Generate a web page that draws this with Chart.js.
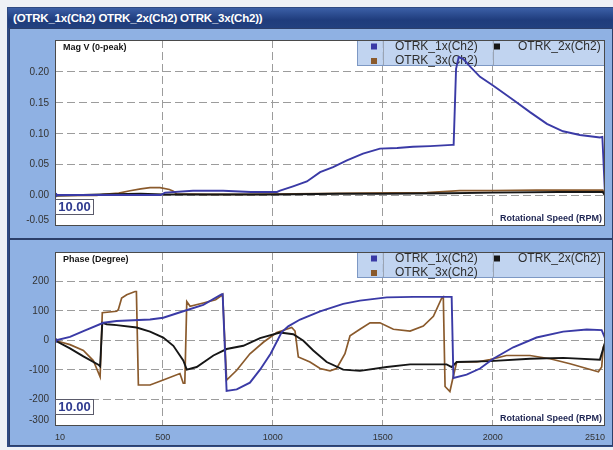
<!DOCTYPE html>
<html><head><meta charset="utf-8">
<script src="https://cdn.jsdelivr.net/npm/chart.js@4"></script>
<style>
html,body{margin:0;padding:0;width:613px;height:450px;overflow:hidden;background:#eef1f6;}
#frame{position:absolute;left:7px;top:7px;width:606px;height:440px;background:#2f4a82;}
#title{position:absolute;left:8px;top:8px;width:605px;height:20px;background:linear-gradient(#3b5fa6,#1f3c7c 60%,#22407f);color:#fff;font:bold 11.5px "Liberation Sans",Arial,sans-serif;line-height:20px;padding-left:5px;box-sizing:border-box;white-space:nowrap;letter-spacing:-0.2px;}
.panel{position:absolute;left:9px;width:604px;background:#8fb1e3;border:1px solid #2c3f6a;box-sizing:border-box;}
canvas{position:absolute;left:0;}
</style></head>
<body>
<div id="frame"></div>
<div id="title">(OTRK_1x(Ch2) OTRK_2x(Ch2) OTRK_3x(Ch2))</div>
<div class="panel" style="top:28px;height:211px;"></div>
<div class="panel" style="top:239px;height:207px;"></div>
<canvas id="c1" width="613" height="210" style="top:28px;"></canvas>
<canvas id="c2" width="613" height="210" style="top:240px;"></canvas>
<script>
// ---------- data ----------
const seriesNames = ['OTRK_1x(Ch2)', 'OTRK_2x(Ch2)', 'OTRK_3x(Ch2)'];
const xTicks = [10, 500, 1000, 1500, 2000, 2510];
const magTicks = [-0.05, 0, 0.05, 0.10, 0.15, 0.20];
const phaseTicks = [-300, -200, -100, 0, 100, 200];

// Magnitude (V 0-peak) : [rpm, value]
const mag1x = [[10,0.001],[490,0.001],[510,0.005],[637,0.008],[774,0.008],[900,0.006],[1019,0.006],[1033,0.008],[1092,0.015],[1155,0.023],[1215,0.038],[1274,0.046],[1337,0.057],[1410,0.068],[1487,0.076],[1565,0.077],[1637,0.079],[1715,0.080],[1815,0.082],[1822,0.082],[1833,0.205],[1845,0.224],[1865,0.221],[1896,0.209],[1942,0.192],[2001,0.178],[2092,0.155],[2169,0.135],[2246,0.116],[2319,0.104],[2396,0.098],[2487,0.094],[2498,0.095],[2510,0.002]];
const mag2x = [[10,0.0],[220,0.002],[400,0.003],[500,0.002],[800,0.002],[1000,0.002],[1300,0.003],[1500,0.003],[1800,0.004],[2000,0.005],[2300,0.006],[2500,0.006],[2510,0.0]];
const mag3x = [[10,0.0],[200,0.0005],[230,0.002],[300,0.004],[351,0.008],[400,0.011],[442,0.013],[487,0.013],[530,0.010],[548,0.007],[563,0.003],[700,0.002],[900,0.002],[1100,0.003],[1400,0.004],[1700,0.005],[1850,0.008],[2000,0.008],[2200,0.009],[2400,0.009],[2500,0.009],[2510,0.001]];

// Phase (Degree) : [rpm, value]
const phase1x = [[10,0],[78,12],[139,32],[230,60],[290,66],[442,71],[502,77],[593,99],[684,121],[768,157],[772,157],[790,-171],[836,-166],[896,-143],[942,-99],[990,-45],[1040,28],[1070,48],[1124,71],[1215,99],[1320,124],[1396,135],[1518,146],[1639,148],[1813,148],[1821,-127],[1881,-116],[1942,-95],[2002,-62],[2093,-23],[2199,10],[2320,30],[2427,37],[2495,35],[2510,8]];
const phase2x = [[10,0],[78,-27],[139,-54],[207,-82],[215,-88],[225,60],[245,55],[290,52],[381,44],[442,30],[502,10],[548,-18],[593,-68],[609,-99],[654,-90],[730,-51],[790,-29],[866,-18],[942,8],[1033,27],[1093,21],[1139,-1],[1184,-34],[1245,-73],[1320,-99],[1396,-103],[1518,-90],[1624,-81],[1790,-81],[1813,-90],[1836,-73],[1987,-70],[2169,-62],[2320,-59],[2487,-65],[2510,-7]];
const phase3x = [[10,0],[78,-14],[139,-34],[184,-68],[215,-123],[225,94],[290,99],[298,105],[313,144],[336,155],[374,166],[380,166],[389,-151],[442,-151],[502,-134],[578,-112],[593,-145],[600,-145],[609,132],[624,116],[684,127],[740,138],[768,153],[772,156],[790,-134],[836,-101],[896,-45],[957,-6],[1018,27],[1086,44],[1101,32],[1116,-56],[1169,-73],[1215,-95],[1260,-103],[1290,-95],[1328,-45],[1351,16],[1396,38],[1442,60],[1487,60],[1548,38],[1624,32],[1684,49],[1730,82],[1768,144],[1775,148],[1783,-156],[1805,-173],[1820,-123],[1836,-73],[1927,-73],[1987,-65],[2062,-51],[2169,-51],[2260,-62],[2351,-79],[2427,-95],[2480,-106],[2495,-90],[2502,-23],[2510,-12]];

const colors = ['#3a3aa6', '#161616', '#8a5a2c'];
const gridColor = '#9c9c9c';
const FONT = '"Liberation Sans", Arial, sans-serif';

// ---------- helpers ----------
function toXY(arr){ return arr.map(p => ({x: p[0], y: p[1]})); }
function makeDatasets(a, b, c){
  return [a, b, c].map((arr, i) => ({
    label: seriesNames[i],
    data: toXY(arr),
    borderColor: colors[i],
    backgroundColor: colors[i],
    borderWidth: i === 2 ? 1.7 : 1.9,
    pointRadius: ctx => (i === 0 && ctx.dataIndex === 0) ? 3 : 0,
    pointStyle: 'rect',
    pointBorderWidth: 0,
    tension: 0
  }));
}
function yTickBuilder(list){
  return function(scale){
    const span = scale.max - scale.min;
    scale.ticks = list.map(v => ({value: v < scale.min ? scale.min + span * 0.033 : v}));
  };
}

const decor = {
  id: 'decor',
  beforeDraw(chart){
    const {ctx, chartArea: a} = chart;
    ctx.save();
    ctx.fillStyle = '#ffffff';
    ctx.fillRect(a.left, a.top, a.right - a.left, a.bottom - a.top);
    ctx.restore();
  },
  beforeDatasetsDraw(chart){
    const {ctx, chartArea: a} = chart;
    const w = 248, h = 26, x0 = a.right - w, y0 = a.top;
    ctx.save();
    ctx.fillStyle = 'rgba(184,206,238,0.88)';
    ctx.fillRect(x0, y0, w, h);
    ctx.strokeStyle = '#7d98c4';
    ctx.lineWidth = 1;
    ctx.strokeRect(x0 + 0.5, y0 + 0.5, w - 1, h - 1);
    ctx.strokeStyle = '#9aa4b4';
    [26, 136].forEach(dx => {
      ctx.beginPath(); ctx.moveTo(x0 + dx + 0.5, y0 + 1); ctx.lineTo(x0 + dx + 0.5, y0 + h - 1); ctx.stroke();
    });
    const slots = [[0, 0], [1, 0], [0, 1]];
    ctx.font = '12px ' + FONT;
    ctx.textBaseline = 'middle';
    ctx.textAlign = 'left';
    chart.data.datasets.forEach((d, i) => {
      const [c, r] = slots[i];
      const mx = x0 + 14 + c * 123, my = y0 + 6.5 + r * 14.5;
      ctx.fillStyle = d.borderColor;
      ctx.fillRect(mx, my - 3, 6, 6);
      ctx.fillStyle = '#2e2e2e';
      ctx.fillText(d.label, mx + 24, my);
    });
    ctx.restore();
  },
  afterDraw(chart, args, opts){
    const {ctx, chartArea: a} = chart;
    ctx.save();
    ctx.font = 'bold 9px ' + FONT;
    ctx.fillStyle = '#151515';
    ctx.textBaseline = 'top';
    ctx.textAlign = 'left';
    ctx.fillText(opts.yTitle, a.left + 8, a.top + 3);
    ctx.fillStyle = '#1d2452';
    ctx.textAlign = 'right';
    ctx.textBaseline = 'bottom';
    ctx.fillText(opts.xTitle, a.right - 3, a.bottom - 3);
    ctx.strokeStyle = '#4a4a4a';
    ctx.lineWidth = 1;
    ctx.strokeRect(a.left + 0.5, a.top + 0.5, a.right - a.left - 1, a.bottom - a.top - 1);
    // cursor value box
    const bx = a.left, by = a.bottom - 27;
    ctx.fillStyle = '#ffffff';
    ctx.fillRect(bx, by, 39, 16);
    ctx.strokeStyle = '#5a5a6a';
    ctx.strokeRect(bx + 0.5, by + 0.5, 38, 15);
    ctx.font = 'bold 13px ' + FONT;
    ctx.fillStyle = '#2e3a8f';
    ctx.textAlign = 'center';
    ctx.textBaseline = 'middle';
    ctx.fillText(opts.cursor, bx + 19.5, by + 8.5);
    ctx.restore();
  }
};

function makeChart(id, datasets, yMin, yMax, yList, yFmt, showX, pad, xHeight, yTitle){
  return new Chart(document.getElementById(id), {
    type: 'line',
    data: {datasets},
    plugins: [decor],
    options: {
      responsive: false,
      animation: false,
      events: [],
      layout: {padding: pad},
      plugins: {
        legend: {display: false},
        tooltip: {enabled: false},
        decor: {yTitle: yTitle, xTitle: 'Rotational Speed (RPM)', cursor: '10.00'}
      },
      scales: {
        x: {
          type: 'linear', min: xTicks[0], max: xTicks[xTicks.length - 1],
          afterBuildTicks: s => { s.ticks = xTicks.map(v => ({value: v})); },
          afterFit: s => { s.height = xHeight; },
          border: {display: false, dash: [8, 4]},
          grid: {drawTicks: false, lineWidth: 1,
                 color: c => (c.index === 0 || c.index === xTicks.length - 1) ? 'rgba(0,0,0,0)' : gridColor},
          ticks: {display: showX, align: 'inner', autoSkip: false, maxRotation: 0, padding: 6,
                  color: '#333', font: {family: FONT, size: 9},
                  callback: (v, i) => String(xTicks[i])}
        },
        y: {
          type: 'linear', min: yMin, max: yMax,
          afterBuildTicks: yTickBuilder(yList),
          afterFit: s => { s.width = 55; },
          border: {display: false, dash: [8, 4]},
          grid: {drawTicks: false, lineWidth: 1,
                 color: c => c.index === 0 ? 'rgba(0,0,0,0)' : gridColor},
          ticks: {autoSkip: false, padding: 6, color: '#333', font: {family: FONT, size: 10},
                  callback: (v, i) => yFmt(yList[i])}
        }
      }
    }
  });
}

makeChart('c1', makeDatasets(mag1x, mag2x, mag3x), -0.049, 0.2515, magTicks,
  v => v.toFixed(2), false, {top: 12, bottom: 5, left: 0, right: 8}, 0, 'Mag V (0-peak)');
makeChart('c2', makeDatasets(phase1x, phase2x, phase3x), -290, 300, phaseTicks,
  v => String(v), true, {top: 8, bottom: 4, left: 0, right: 8}, 20, 'Phase (Degree)');
</script>
</body></html>
